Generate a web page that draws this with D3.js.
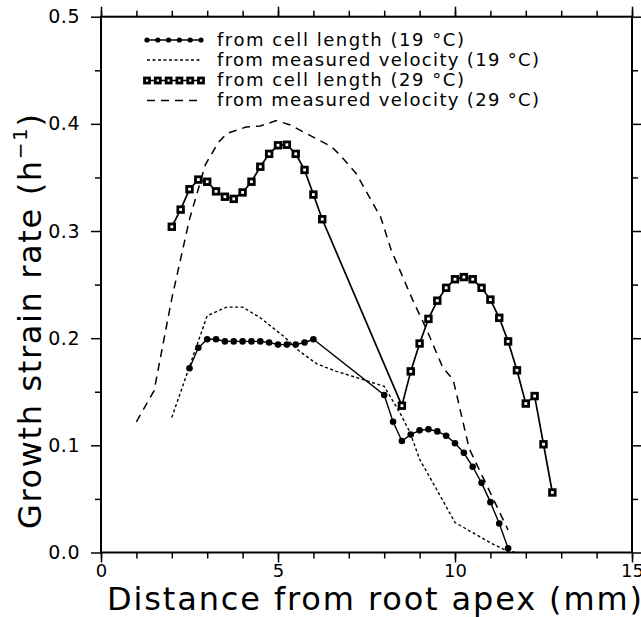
<!DOCTYPE html>
<html>
<head>
<meta charset="utf-8">
<script src="https://cdn.jsdelivr.net/npm/d3@7"></script>
<style>
body { margin: 0; background: #fff; }
svg { display: block; font-family: 'DejaVu Sans', sans-serif; }
</style>
</head>
<body>
<svg id="chart" width="641" height="617"></svg>
<script>
// growth strain rate vs distance from root apex
const cell19X = [2.5, 2.75, 3, 3.25, 3.5, 3.75, 4, 4.25, 4.5, 4.75, 5, 5.25, 5.5, 5.75, 6,
                 8, 8.25, 8.5, 8.75, 9, 9.25, 9.5, 9.75, 10, 10.25, 10.5, 10.75, 11, 11.25, 11.5];
const cell19Y = [0.172, 0.191, 0.199, 0.199, 0.197, 0.197, 0.197, 0.197, 0.197, 0.196, 0.194, 0.194, 0.194, 0.196, 0.199,
                 0.147, 0.122, 0.104, 0.110, 0.114, 0.115, 0.113, 0.109, 0.102, 0.093, 0.080, 0.065, 0.047, 0.027, 0.004];

const vel19X = [2.0, 3.0, 3.55, 4.0, 4.5, 5.15, 5.6, 6.1, 6.65, 7.05, 8.0, 8.45, 8.73, 9.0, 9.48, 10.0, 10.42, 11.0, 11.5, 11.8];
const vel19Y = [0.126, 0.221, 0.229, 0.229, 0.219, 0.202, 0.188, 0.176, 0.169, 0.165, 0.155, 0.130, 0.112, 0.087, 0.059, 0.028, 0.020, 0.009, 0.001, 0.0];

const cell29X = [2, 2.25, 2.5, 2.75, 3, 3.25, 3.5, 3.75, 4, 4.25, 4.5, 4.75, 5, 5.25, 5.5, 5.75, 6, 6.25,
                 8.5, 8.75, 9, 9.25, 9.5, 9.75, 10, 10.25, 10.5, 10.75, 11, 11.25, 11.5, 11.75, 12, 12.25, 12.5, 12.75];
const cell29Y = [0.304, 0.320, 0.339, 0.348, 0.346, 0.337, 0.332, 0.330, 0.336, 0.346, 0.360, 0.372, 0.380, 0.3805, 0.372, 0.357, 0.334, 0.311,
                 0.137, 0.169, 0.195, 0.218, 0.235, 0.247, 0.255, 0.257, 0.255, 0.247, 0.236, 0.219, 0.197, 0.170, 0.139, 0.146, 0.101, 0.056];

const vel29X = [1.0, 1.5, 2.0, 2.5, 2.95, 3.3, 3.55, 4.1, 4.5, 4.95, 5.35, 5.8, 6.5, 6.75, 7.2, 7.9, 8.2, 8.8, 9.2, 9.65, 9.95, 10.4, 11.5];
const vel29Y = [0.122, 0.151, 0.237, 0.311, 0.362, 0.382, 0.391, 0.397, 0.398, 0.403, 0.399, 0.391, 0.379, 0.371, 0.354, 0.313, 0.282, 0.236, 0.208, 0.173, 0.161, 0.097, 0.021];

const legendLabels = [
    'from cell length (19 °C)',
    'from measured velocity (19 °C)',
    'from cell length (29 °C)',
    'from measured velocity (29 °C)',
];

const xMajor = [0, 5, 10, 15];
const xMinor = [0, 1, 2, 3, 4, 5, 6, 7, 8, 9, 10, 11, 12, 13, 14, 15];
const yMajor = [0, 0.1, 0.2, 0.3, 0.4, 0.5];
const yMinor = [0.05, 0.15, 0.25, 0.35, 0.45];

const svg = d3.select('#chart');

const x = d3.scaleLinear().domain([0, 15]).range([101, 632]);
const y = d3.scaleLinear().domain([0, 0.5]).range([552.5, 16.7]);

function styleAxis(g) {
    g.select('.domain').remove();
    g.selectAll('.tick line').attr('stroke', '#000').attr('stroke-width', 1.5);
    g.selectAll('.tick text').attr('fill', '#000');
}

// bottom
svg.append('g').attr('transform', `translate(0,${y(0)})`)
    .call(d3.axisBottom(x).tickValues(xMinor).tickSize(6).tickFormat(''))
    .call(styleAxis);
svg.append('g').attr('transform', `translate(0,${y(0)})`)
    .call(d3.axisBottom(x).tickValues(xMajor).tickSize(10).tickPadding(2).tickFormat(d3.format('d')))
    .call(styleAxis)
    .selectAll('text').attr('font-size', 18).attr('font-family', 'DejaVu Sans');
// top
svg.append('g').attr('transform', `translate(0,${y(0.5)})`)
    .call(d3.axisTop(x).tickValues(xMinor).tickSize(6).tickFormat(''))
    .call(styleAxis);
svg.append('g').attr('transform', `translate(0,${y(0.5)})`)
    .call(d3.axisTop(x).tickValues(xMajor).tickSize(10).tickFormat(''))
    .call(styleAxis);
// left
svg.append('g').attr('transform', `translate(${x(0)},0)`)
    .call(d3.axisLeft(y).tickValues(yMinor).tickSize(6).tickFormat(''))
    .call(styleAxis);
svg.append('g').attr('transform', `translate(${x(0)},0)`)
    .call(d3.axisLeft(y).tickValues(yMajor).tickSize(10).tickPadding(11).tickFormat(d3.format('.1f')))
    .call(styleAxis)
    .selectAll('text').attr('font-size', 19).attr('font-family', 'DejaVu Sans').attr('letter-spacing', 0.5);
// right
svg.append('g').attr('transform', `translate(${x(15)},0)`)
    .call(d3.axisRight(y).tickValues(yMinor).tickSize(6).tickFormat(''))
    .call(styleAxis);
svg.append('g').attr('transform', `translate(${x(15)},0)`)
    .call(d3.axisRight(y).tickValues(yMajor).tickSize(10).tickFormat(''))
    .call(styleAxis);

// frame
svg.append('rect')
    .attr('x', x(0)).attr('y', y(0.5))
    .attr('width', x(15) - x(0)).attr('height', y(0) - y(0.5))
    .attr('fill', 'none').attr('stroke', '#000').attr('stroke-width', 2);

const line = d3.line().x(d => x(d[0])).y(d => y(d[1]));

const cell19 = d3.zip(cell19X, cell19Y);
const vel19 = d3.zip(vel19X, vel19Y);
const cell29 = d3.zip(cell29X, cell29Y);
const vel29 = d3.zip(vel29X, vel29Y);

const styles = [
    { width: 1.4, dash: null },
    { width: 1.4, dash: '3,2.5' },
    { width: 1.7, dash: null },
    { width: 1.5, dash: '8,6' },
];

[cell19, vel19, cell29, vel29].forEach((pts, i) => {
    svg.append('path')
        .datum(pts)
        .attr('d', line)
        .attr('fill', 'none')
        .attr('stroke', '#000')
        .attr('stroke-width', styles[i].width)
        .attr('stroke-dasharray', styles[i].dash);
});

function circles(g, pts, r) {
    g.selectAll(null).data(pts).join('circle')
        .attr('cx', d => d[0]).attr('cy', d => d[1]).attr('r', r)
        .attr('fill', '#000');
}
function squares(g, pts, s) {
    g.selectAll(null).data(pts).join('rect')
        .attr('x', d => d[0] - s / 2).attr('y', d => d[1] - s / 2)
        .attr('width', s).attr('height', s)
        .attr('fill', '#fff').attr('stroke', '#000').attr('stroke-width', 2.8);
}

circles(svg.append('g'), cell19.map(d => [x(d[0]), y(d[1])]), 3.3);
squares(svg.append('g'), cell29.map(d => [x(d[0]), y(d[1])]), 5.6);

// legend
const legX0 = 147, legX1 = 201, legText = 217;
const rowY = [40, 60, 80.5, 100.5];
const textLen = [247, 322, 247, 322];
const sampleXs = d3.range(6).map(i => legX0 + i * (legX1 - legX0) / 5);

legendLabels.forEach((label, i) => {
    svg.append('line')
        .attr('x1', legX0).attr('x2', legX1)
        .attr('y1', rowY[i]).attr('y2', rowY[i])
        .attr('stroke', '#000')
        .attr('stroke-width', styles[i].width)
        .attr('stroke-dasharray', styles[i].dash);
    if (i === 0) circles(svg.append('g'), sampleXs.map(v => [v, rowY[i]]), 2.6);
    if (i === 2) squares(svg.append('g'), sampleXs.map(v => [v, rowY[i]]), 5);
    svg.append('text')
        .attr('x', legText).attr('y', rowY[i] + 5.5)
        .attr('font-size', 18)
        .attr('textLength', textLen[i]).attr('lengthAdjust', 'spacing')
        .text(label);
});

// axis titles
svg.append('text')
    .attr('x', 107).attr('y', 610)
    .attr('font-size', 32)
    .attr('textLength', 535).attr('lengthAdjust', 'spacing')
    .text('Distance from root apex (mm)');

const yt = svg.append('text')
    .attr('transform', 'translate(41,529) rotate(-90)')
    .attr('font-size', 32)
    .attr('textLength', 415).attr('lengthAdjust', 'spacing');
yt.append('tspan').text('Growth strain rate (h');
yt.append('tspan').attr('font-size', 20).attr('dy', -14).text('−1');
yt.append('tspan').attr('dy', 14).text(')');
</script>
</body>
</html>
